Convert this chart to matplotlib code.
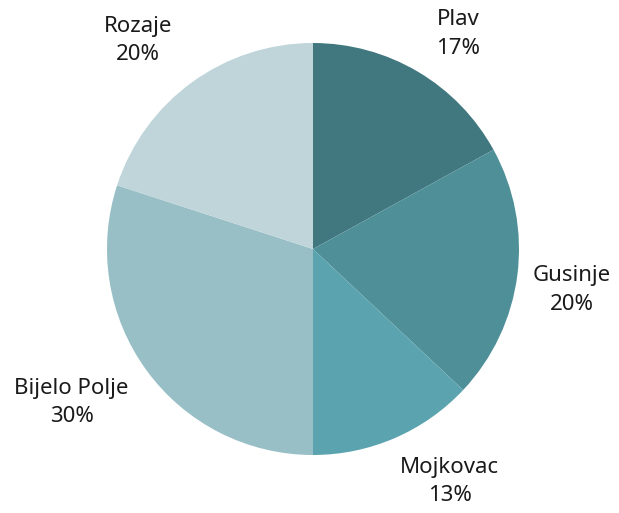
import numpy as np
import matplotlib.pyplot as plt

plt.rcParams['font.family'] = ['Noto Sans', 'DejaVu Sans']

towns = ['Plav', 'Gusinje', 'Mojkovac', 'Bijelo Polje', 'Rozaje']
shares = [17, 20, 13, 30, 20]
colors = ['#41787f', '#4e8f98', '#5ba4af', '#98bfc6', '#bfd5da']
# label placement (distance in radii, angle shift in degrees from wedge middle)
label_dist = [1.26, 1.27, 1.31, 1.39, 1.32]
label_shift = [-3.5, -1.8, 7.0, -3.5, 4.0]

fig = plt.figure(figsize=(6.19, 5.13), dpi=100)
# pie centre at (313, 249) px, radius ~206 px
ax = fig.add_axes([(313 - 206) / 619, (513 - 249 - 206) / 513, 412 / 619, 412 / 513])

labels = [f"{t}\n{s}%" for t, s in zip(towns, shares)]
wedges, texts = ax.pie(shares, colors=colors, startangle=90, counterclock=False,
                       radius=1.0, labels=labels, labeldistance=1.3,
                       wedgeprops=dict(linewidth=0),
                       textprops=dict(fontsize=16, color='#1a1a1a', linespacing=1.45))

for w, t, d, s in zip(wedges, texts, label_dist, label_shift):
    ang = np.deg2rad((w.theta1 + w.theta2) / 2 + s)
    t.set_position((d * np.cos(ang), d * np.sin(ang)))
    t.set_ha('center')
    t.set_va('center')

ax.set_xlim(-1, 1)
ax.set_ylim(-1, 1)
ax.set_aspect('equal')
ax.axis('off')

fig.savefig('out.png', dpi=100)
